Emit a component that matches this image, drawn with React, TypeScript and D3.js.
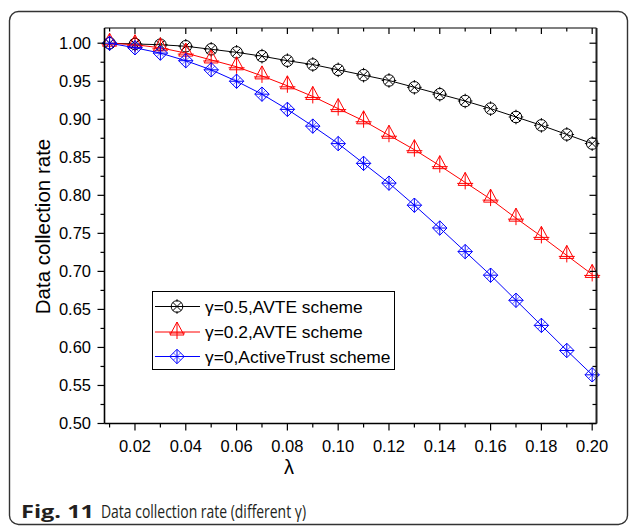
import React from "react";
import * as d3 from "d3";

const lambdaValues = [0.01, 0.02, 0.03, 0.04, 0.05, 0.06, 0.07, 0.08, 0.09, 0.1, 0.11, 0.12, 0.13, 0.14, 0.15, 0.16, 0.17, 0.18, 0.19, 0.2];
const gamma05 = [1.0, 0.999, 0.998, 0.996, 0.992, 0.988, 0.983, 0.977, 0.972, 0.965, 0.958, 0.951, 0.942, 0.933, 0.924, 0.914, 0.903, 0.892, 0.88, 0.868];
const gamma02 = [1.0, 0.998, 0.994, 0.987, 0.978, 0.969, 0.957, 0.944, 0.93, 0.914, 0.898, 0.879, 0.86, 0.839, 0.817, 0.795, 0.77, 0.746, 0.721, 0.696];
const gamma0 = [1.0, 0.994, 0.987, 0.977, 0.965, 0.95, 0.933, 0.913, 0.891, 0.868, 0.842, 0.816, 0.787, 0.757, 0.726, 0.695, 0.662, 0.629, 0.596, 0.564];

const seriesLabels = ["γ=0.5,AVTE scheme", "γ=0.2,AVTE scheme", "γ=0,ActiveTrust scheme"];
const seriesColors = ["#000000", "#ff0000", "#0000ff"];
const seriesMarkers = ["circleX", "triangle", "diamond"];

const xMajorTicks = [0.02, 0.04, 0.06, 0.08, 0.1, 0.12, 0.14, 0.16, 0.18, 0.2];
const xMinorTicks = [0.01, 0.03, 0.05, 0.07, 0.09, 0.11, 0.13, 0.15, 0.17, 0.19];
const yMajorTicks = [0.5, 0.55, 0.6, 0.65, 0.7, 0.75, 0.8, 0.85, 0.9, 0.95, 1.0];
const yMinorTicks = [0.525, 0.575, 0.625, 0.675, 0.725, 0.775, 0.825, 0.875, 0.925, 0.975];

const FONT = "Arial, 'Liberation Sans', Helvetica, sans-serif";

function Marker({ type, x, y, color }: { type: string; x: number; y: number; color: string }) {
  const common = { stroke: color, strokeWidth: 1, fill: "none" };
  if (type === "circleX") {
    const r = 5.8;
    const d = r * 0.72;
    return (
      <g {...common}>
        <circle cx={x} cy={y} r={r} />
        <path d={`M${x - d},${y - d}L${x + d},${y + d}M${x - d},${y + d}L${x + d},${y - d}`} />
        <path d={`M${x},${y - r - 1.5}L${x},${y - r + 1}M${x},${y + r - 1}L${x},${y + r + 1.5}M${x - r - 1.5},${y}L${x - r + 1},${y}M${x + r - 1},${y}L${x + r + 1.5},${y}`} />
      </g>
    );
  }
  if (type === "triangle") {
    return (
      <g {...common}>
        <path d={`M${x},${y - 10}L${x + 7},${y + 3}L${x - 7},${y + 3}Z`} />
        <path d={`M${x},${y - 10}L${x},${y + 7}M${x - 8},${y + 1}L${x + 8},${y + 1}`} />
      </g>
    );
  }
  const s = 7.2;
  return (
    <g {...common}>
      <path d={`M${x},${y - s}L${x + s},${y}L${x},${y + s}L${x - s},${y}Z`} />
      <path d={`M${x},${y - s}L${x},${y + s}M${x - s},${y}L${x + s},${y}`} />
      <path d={`M${x - s / 2},${y - s / 2}L${x + s / 2},${y + s / 2}M${x - s / 2},${y + s / 2}L${x + s / 2},${y - s / 2}`} strokeWidth={0.6} />
    </g>
  );
}

export default function App() {
  const left = 104.5, right = 596.5, top = 28, bottom = 423.5;
  const x = d3.scaleLinear().domain([0.008, 0.2017]).range([left, right]);
  const y = d3.scaleLinear().domain([0.5, 1.02]).range([bottom, top]);
  const series = [gamma05, gamma02, gamma0];
  const line = d3
    .line<number>()
    .x((_, i) => x(lambdaValues[i]))
    .y((d) => y(d));

  const legend = { x: 152.5, y: 291.5, w: 242, h: 78 };
  const rowY = [306.5, 332, 356.5];

  return (
    <svg width={629} height={526} style={{ position: "absolute", left: 0, top: 0, background: "#fff" }}>
      <rect x={0} y={0} width={629} height={526} fill="#fff" />
      <rect x={9.5} y={11.5} width={618} height={513} rx={9} fill="none" stroke="#333" strokeWidth={1.4} />

      {series.map((vals, si) => (
        <g key={si}>
          <path d={line(vals) || ""} fill="none" stroke={seriesColors[si]} strokeWidth={1} />
          {vals.map((v, i) => (
            <Marker key={i} type={seriesMarkers[si]} x={x(lambdaValues[i])} y={y(v)} color={seriesColors[si]} />
          ))}
        </g>
      ))}

      <line x1={left} x2={left} y1={top} y2={bottom} stroke="#000" strokeWidth={1.6} />
      <line x1={left} x2={right} y1={bottom} y2={bottom} stroke="#000" strokeWidth={1.6} />
      <line x1={left} x2={right} y1={top} y2={top} stroke="#000" strokeWidth={1.2} />
      <line x1={right} x2={right} y1={top} y2={bottom} stroke="#222" strokeWidth={2} />

      {yMajorTicks.map((t) => (
        <g key={"ym" + t}>
          <line x1={left - 7} x2={left} y1={y(t)} y2={y(t)} stroke="#000" strokeWidth={1.2} />
          <line x1={right - 7} x2={right} y1={y(t)} y2={y(t)} stroke="#000" strokeWidth={1.2} />
          <text x={91} y={y(t) + 5.8} textAnchor="end" fontFamily={FONT} fontSize={16.5} fill="#000">
            {d3.format(".2f")(t)}
          </text>
        </g>
      ))}
      {yMinorTicks.map((t) => (
        <g key={"yn" + t}>
          <line x1={left - 4} x2={left} y1={y(t)} y2={y(t)} stroke="#000" strokeWidth={1.2} />
          <line x1={right - 4} x2={right} y1={y(t)} y2={y(t)} stroke="#000" strokeWidth={1.2} />
        </g>
      ))}

      {xMajorTicks.map((t) => (
        <g key={"xm" + t}>
          <line x1={x(t)} x2={x(t)} y1={bottom} y2={bottom + 7} stroke="#000" strokeWidth={1.2} />
          <line x1={x(t)} x2={x(t)} y1={top} y2={top + 6} stroke="#000" strokeWidth={1.2} />
          <text x={x(t)} y={452} textAnchor="middle" fontFamily={FONT} fontSize={16.5} fill="#000">
            {d3.format(".2f")(t)}
          </text>
        </g>
      ))}
      {xMinorTicks.map((t) => (
        <g key={"xn" + t}>
          <line x1={x(t)} x2={x(t)} y1={bottom} y2={bottom + 4} stroke="#000" strokeWidth={1.2} />
          <line x1={x(t)} x2={x(t)} y1={top} y2={top + 3.5} stroke="#000" strokeWidth={1.2} />
        </g>
      ))}

      <text x={289} y={474} textAnchor="middle" fontFamily={FONT} fontSize={20} fill="#000">
        λ
      </text>
      <text transform={`translate(50,226.5) rotate(-90)`} textAnchor="middle" fontFamily={FONT} fontSize={20.5} fill="#000">
        Data collection rate
      </text>

      <rect x={legend.x} y={legend.y} width={legend.w} height={legend.h} fill="#fff" stroke="#000" strokeWidth={1} />
      {seriesLabels.map((lab, i) => (
        <g key={lab}>
          <line x1={155} x2={200} y1={rowY[i]} y2={rowY[i]} stroke={seriesColors[i]} strokeWidth={1} />
          <Marker type={seriesMarkers[i]} x={177} y={rowY[i]} color={seriesColors[i]} />
          <text x={205} y={rowY[i] + 6} fontFamily={FONT} fontSize={17.4} fill="#000">
            {lab}
          </text>
        </g>
      ))}

      <text x={21} y={518} fontFamily="'Open Sans', sans-serif" fontSize={18} fill="#231f20" fontWeight="bold" textLength={73} lengthAdjust="spacingAndGlyphs">
        Fig. 11
      </text>
      <text x={101} y={518} fontFamily="'Open Sans', sans-serif" fontSize={18} fill="#231f20" textLength={205} lengthAdjust="spacingAndGlyphs">
        Data collection rate (different γ)
      </text>
    </svg>
  );
}
